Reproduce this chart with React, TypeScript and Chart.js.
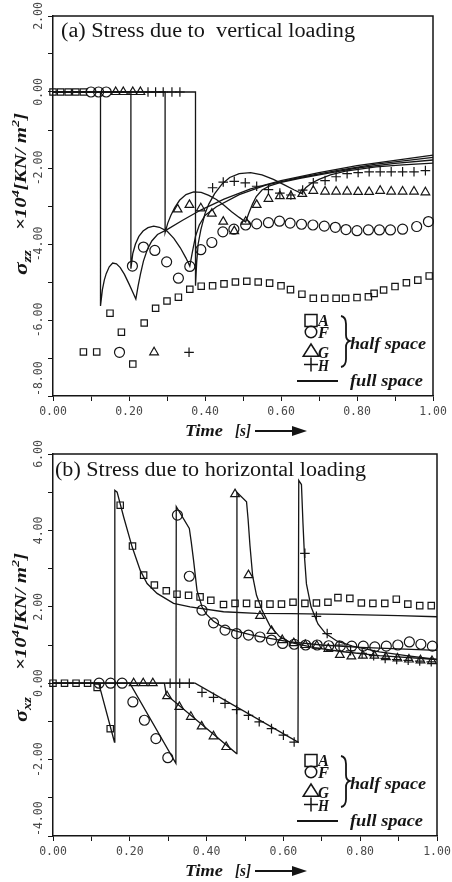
import React, { useEffect, useRef } from 'react';
import { Chart, registerables } from 'chart.js';
Chart.register(...registerables);

type Pt = [number, number];

// ---------- tick labels ----------
const xTickLabels = ['0.00', '0.20', '0.40', '0.60', '0.80', '1.00'];
const yTickLabelsA = ['2.00', '0.00', '-2.00', '-4.00', '-6.00', '-8.00'];
const yTickLabelsB = ['6.00', '4.00', '2.00', '0.00', '-2.00', '-4.00'];
const pointNames = ['A', 'F', 'G', 'H'];

// ---------- (a) vertical loading : full space ----------
const aFullA: Pt[] = [[0, 0], [0.125, 0], [0.125, -5.63], [0.13, -5.2], [0.135, -4.95], [0.14, -4.78], [0.148, -4.6], [0.157, -4.5], [0.167, -4.52], [0.177, -4.62], [0.188, -4.8], [0.2, -5.05], [0.21, -5.27], [0.218, -5.45], [0.224, -5.1], [0.23, -4.8], [0.238, -4.45], [0.248, -4.15], [0.26, -3.92], [0.275, -3.75], [0.3, -3.62], [0.34, -3.38], [0.39, -3.1], [0.45, -2.82], [0.52, -2.55], [0.6, -2.33], [0.7, -2.12], [0.8, -1.94], [0.9, -1.8], [1.0, -1.66]];
const aFullF: Pt[] = [[0, 0], [0.205, 0], [0.205, -4.65], [0.21, -4.25], [0.217, -4.0], [0.226, -3.8], [0.237, -3.66], [0.25, -3.57], [0.265, -3.53], [0.28, -3.56], [0.3, -3.66], [0.318, -3.85], [0.335, -4.1], [0.35, -4.37], [0.36, -4.58], [0.367, -4.2], [0.375, -3.8], [0.385, -3.5], [0.4, -3.25], [0.43, -3.02], [0.49, -2.7], [0.56, -2.45], [0.65, -2.25], [0.75, -2.06], [0.85, -1.9], [1.0, -1.72]];
const aFullG: Pt[] = [[0, 0], [0.295, 0], [0.295, -3.7], [0.302, -3.45], [0.31, -3.25], [0.32, -3.05], [0.333, -2.85], [0.35, -2.7], [0.37, -2.63], [0.39, -2.64], [0.41, -2.72], [0.43, -2.83], [0.45, -2.98], [0.47, -3.15], [0.49, -3.3], [0.507, -3.42], [0.515, -3.2], [0.525, -2.95], [0.535, -2.75], [0.55, -2.58], [0.57, -2.47], [0.6, -2.38], [0.65, -2.27], [0.7, -2.18], [0.8, -2.0], [0.9, -1.88], [1.0, -1.79]];
const aFullH: Pt[] = [[0, 0], [0.375, 0], [0.375, -5.1], [0.378, -4.5], [0.382, -4.0], [0.389, -3.63], [0.4, -3.2], [0.41, -2.95], [0.425, -2.68], [0.445, -2.42], [0.465, -2.25], [0.49, -2.15], [0.52, -2.12], [0.55, -2.18], [0.58, -2.3], [0.61, -2.45], [0.635, -2.58], [0.654, -2.67], [0.665, -2.52], [0.68, -2.4], [0.7, -2.3], [0.73, -2.18], [0.77, -2.08], [0.85, -1.97], [0.92, -1.92], [1.0, -1.87]];

// ---------- (a) vertical loading : half space ----------
const aHalfA: Pt[] = [[0, 0], [0.02, 0], [0.04, 0], [0.06, 0], [0.08, 0], [0.08, -6.84], [0.115, -6.84], [0.15, -5.82], [0.18, -6.32], [0.21, -7.16], [0.24, -6.08], [0.27, -5.69], [0.3, -5.5], [0.33, -5.4], [0.36, -5.19], [0.39, -5.11], [0.42, -5.1], [0.45, -5.05], [0.48, -5.0], [0.51, -4.98], [0.54, -5.0], [0.57, -5.03], [0.6, -5.1], [0.625, -5.2], [0.655, -5.32], [0.685, -5.43], [0.715, -5.43], [0.745, -5.43], [0.77, -5.43], [0.8, -5.41], [0.83, -5.39], [0.845, -5.3], [0.87, -5.21], [0.9, -5.12], [0.93, -5.02], [0.96, -4.95], [0.99, -4.84]];
const aHalfF: Pt[] = [[0.1, 0], [0.12, 0], [0.14, 0], [0.175, -6.85], [0.209, -4.58], [0.238, -4.08], [0.268, -4.17], [0.299, -4.47], [0.33, -4.9], [0.36, -4.59], [0.389, -4.15], [0.418, -3.96], [0.447, -3.68], [0.476, -3.61], [0.507, -3.5], [0.536, -3.47], [0.567, -3.44], [0.596, -3.4], [0.624, -3.45], [0.654, -3.48], [0.684, -3.5], [0.714, -3.53], [0.743, -3.56], [0.771, -3.62], [0.8, -3.65], [0.83, -3.63], [0.859, -3.63], [0.888, -3.63], [0.92, -3.61], [0.957, -3.54], [0.988, -3.41]];
const aHalfG: Pt[] = [[0.165, 0], [0.185, 0], [0.21, 0], [0.23, 0], [0.266, -6.85], [0.328, -3.09], [0.359, -2.97], [0.389, -3.06], [0.418, -3.2], [0.448, -3.41], [0.477, -3.66], [0.507, -3.41], [0.536, -2.97], [0.567, -2.81], [0.597, -2.74], [0.626, -2.74], [0.656, -2.68], [0.685, -2.6], [0.716, -2.62], [0.745, -2.62], [0.774, -2.62], [0.803, -2.63], [0.832, -2.63], [0.861, -2.6], [0.89, -2.62], [0.92, -2.62], [0.95, -2.62], [0.98, -2.64]];
const aHalfH: Pt[] = [[0.25, 0], [0.27, 0], [0.29, 0], [0.313, 0], [0.334, 0], [0.358, -6.85], [0.42, -2.52], [0.448, -2.37], [0.477, -2.35], [0.506, -2.39], [0.536, -2.48], [0.567, -2.57], [0.597, -2.66], [0.626, -2.71], [0.657, -2.58], [0.685, -2.39], [0.716, -2.33], [0.745, -2.23], [0.774, -2.15], [0.803, -2.12], [0.832, -2.1], [0.861, -2.1], [0.89, -2.1], [0.92, -2.1], [0.95, -2.1], [0.98, -2.07]];

// ---------- (b) horizontal loading : full space ----------
const bFullA: Pt[] = [[0, 0], [0.119, 0], [0.16, -1.54], [0.161, 5.05], [0.167, 5.0], [0.184, 4.35], [0.206, 3.57], [0.227, 2.96], [0.245, 2.61], [0.271, 2.35], [0.314, 2.09], [0.357, 2.0], [0.444, 1.87], [0.53, 1.83], [0.62, 1.82], [0.75, 1.8], [0.9, 1.77], [1.0, 1.74]];
const bFullF: Pt[] = [[0, 0], [0.2, 0], [0.32, -2.1], [0.321, 4.62], [0.355, 4.05], [0.36, 3.7], [0.366, 3.22], [0.375, 2.43], [0.388, 2.0], [0.4, 1.8], [0.418, 1.62], [0.44, 1.48], [0.47, 1.38], [0.513, 1.27], [0.56, 1.18], [0.617, 1.08], [0.7, 1.0], [0.8, 0.94], [0.9, 0.9], [1.0, 0.86]];
const bFullG: Pt[] = [[0, 0], [0.29, 0], [0.295, -0.3], [0.478, -1.84], [0.479, 5.0], [0.504, 4.75], [0.508, 4.3], [0.513, 3.6], [0.52, 2.8], [0.53, 2.3], [0.545, 1.9], [0.565, 1.5], [0.59, 1.22], [0.62, 1.06], [0.68, 0.93], [0.75, 0.83], [0.85, 0.72], [1.0, 0.62]];
const bFullH: Pt[] = [[0, 0], [0.37, 0], [0.638, -1.54], [0.64, 5.31], [0.647, 5.2], [0.651, 4.18], [0.655, 3.3], [0.66, 2.6], [0.672, 2.0], [0.69, 1.55], [0.71, 1.3], [0.74, 1.1], [0.78, 0.97], [0.85, 0.82], [0.92, 0.72], [1.0, 0.62]];

// ---------- (b) horizontal loading : half space ----------
const bHalfA: Pt[] = [[0, 0], [0.03, 0], [0.06, 0], [0.09, 0], [0.115, -0.11], [0.149, -1.19], [0.175, 4.66], [0.207, 3.59], [0.236, 2.83], [0.264, 2.57], [0.295, 2.42], [0.323, 2.33], [0.353, 2.3], [0.383, 2.26], [0.411, 2.17], [0.444, 2.06], [0.474, 2.09], [0.504, 2.09], [0.535, 2.07], [0.565, 2.07], [0.595, 2.07], [0.625, 2.12], [0.656, 2.09], [0.686, 2.1], [0.716, 2.12], [0.742, 2.24], [0.773, 2.22], [0.803, 2.1], [0.833, 2.09], [0.864, 2.09], [0.894, 2.2], [0.924, 2.07], [0.955, 2.03], [0.985, 2.03]];
const bHalfF: Pt[] = [[0.12, 0], [0.15, 0], [0.18, 0], [0.208, -0.49], [0.238, -0.97], [0.268, -1.45], [0.299, -1.95], [0.324, 4.4], [0.355, 2.8], [0.388, 1.91], [0.418, 1.58], [0.448, 1.39], [0.478, 1.3], [0.509, 1.26], [0.539, 1.21], [0.569, 1.13], [0.598, 1.04], [0.628, 1.02], [0.658, 1.0], [0.688, 1.0], [0.718, 0.98], [0.748, 0.97], [0.778, 0.97], [0.808, 0.97], [0.838, 0.95], [0.868, 0.97], [0.898, 1.0], [0.928, 1.08], [0.958, 1.02], [0.988, 0.97]];
const bHalfG: Pt[] = [[0.21, 0], [0.235, 0], [0.26, 0], [0.297, -0.34], [0.329, -0.62], [0.359, -0.88], [0.387, -1.13], [0.418, -1.39], [0.451, -1.67], [0.474, 4.95], [0.509, 2.83], [0.539, 1.76], [0.569, 1.37], [0.597, 1.13], [0.627, 1.05], [0.657, 1.0], [0.687, 0.98], [0.717, 0.9], [0.747, 0.74], [0.777, 0.7], [0.807, 0.72], [0.837, 0.72], [0.867, 0.68], [0.897, 0.65], [0.927, 0.62], [0.957, 0.6], [0.987, 0.58]];
const bHalfH: Pt[] = [[0.305, 0], [0.33, 0], [0.355, 0], [0.388, -0.24], [0.418, -0.37], [0.448, -0.53], [0.478, -0.69], [0.509, -0.84], [0.537, -1.01], [0.569, -1.19], [0.6, -1.36], [0.628, -1.54], [0.656, 3.4], [0.686, 1.75], [0.714, 1.3], [0.745, 1.0], [0.775, 0.85], [0.805, 0.78], [0.835, 0.72], [0.865, 0.65], [0.895, 0.62], [0.925, 0.6], [0.955, 0.58], [0.985, 0.56]];

const SERIF = '"Liberation Serif", "DejaVu Serif", serif';
const MONO = '"DejaVu Sans Mono", "Liberation Mono", monospace';
const INK = '#151515';

interface PanelSpec {
  canvasTop: number;
  canvasHeight: number;
  padTop: number;
  padRight: number;
  yWidth: number;
  xHeight: number;
  yMin: number;
  yMax: number;
  yLabels: string[];
  title: string;
  titleX: number;
  titleBase: number;
  titleW: number;
  sub: string;
  sigmaBottom: number;
  full: Pt[][];
  half: Pt[][];
}

function fitText(ctx: CanvasRenderingContext2D, text: string, x: number, y: number, w: number, font: string) {
  ctx.save();
  ctx.font = font;
  const m = ctx.measureText(text).width;
  ctx.translate(x, y);
  ctx.scale(w / m, 1);
  ctx.textAlign = 'left';
  ctx.textBaseline = 'alphabetic';
  ctx.fillText(text, 0, 0);
  ctx.restore();
}

type Piece = { t: string; f: string; dy: number };
function drawPieces(ctx: CanvasRenderingContext2D, pieces: Piece[], x: number, y: number, len: number, rotate: boolean) {
  ctx.save();
  let total = 0;
  for (const p of pieces) { ctx.font = p.f; total += ctx.measureText(p.t).width; }
  ctx.translate(x, y);
  if (rotate) ctx.rotate(-Math.PI / 2);
  ctx.scale(len / total, 1);
  ctx.textAlign = 'left';
  ctx.textBaseline = 'alphabetic';
  let cx = 0;
  for (const p of pieces) { ctx.font = p.f; ctx.fillText(p.t, cx, p.dy); cx += ctx.measureText(p.t).width; }
  ctx.restore();
}

function drawMarker(ctx: CanvasRenderingContext2D, kind: string, cx: number, cy: number, s: number) {
  ctx.beginPath();
  if (kind === 'rect') ctx.rect(cx - s / 2, cy - s / 2, s, s);
  else if (kind === 'circle') ctx.arc(cx, cy, s / 2, 0, Math.PI * 2);
  else if (kind === 'triangle') { ctx.moveTo(cx, cy - s * 0.5); ctx.lineTo(cx + s * 0.6, cy + s * 0.45); ctx.lineTo(cx - s * 0.6, cy + s * 0.45); ctx.closePath(); }
  else { ctx.moveTo(cx - s / 2, cy); ctx.lineTo(cx + s / 2, cy); ctx.moveTo(cx, cy - s / 2); ctx.lineTo(cx, cy + s / 2); }
  ctx.stroke();
}

const styles = ['rect', 'circle', 'triangle', 'cross'];

function Panel({ spec }: { spec: PanelSpec }) {
  const ref = useRef<HTMLCanvasElement>(null);
  useEffect(() => {
    const canvas = ref.current!;
    const lineSets = spec.full.map((d) => ({
      data: d.map(([x, y]) => ({ x, y })),
      showLine: true,
      borderColor: INK,
      borderWidth: 1.3,
      pointRadius: 0,
      tension: 0,
      fill: false,
      clip: false as any,
    }));
    const markSets = spec.half.map((d, i) => ({
      data: d.map(([x, y]) => ({ x, y })),
      showLine: false,
      pointStyle: styles[i],
      pointRadius: styles[i] === 'rect' ? 4.5 : styles[i] === 'circle' ? 5 : styles[i] === 'triangle' ? 5 : 4.8,
      pointBorderWidth: 1.2,
      pointBorderColor: INK,
      pointBackgroundColor: 'rgba(255,255,255,0)',
      clip: false as any,
    }));

    const decor = {
      id: 'decor',
      afterDraw(chart: any) {
        const ctx: CanvasRenderingContext2D = chart.ctx;
        const { left, right, top, bottom } = chart.chartArea;
        const xs = chart.scales.x;
        const ys = chart.scales.y;
        ctx.save();
        // frame top and right
        ctx.strokeStyle = INK;
        ctx.lineWidth = 1.5;
        ctx.beginPath();
        ctx.moveTo(left, top);
        ctx.lineTo(right, top);
        ctx.lineTo(right, bottom);
        ctx.stroke();

        // tick labels
        ctx.fillStyle = '#4a4a4a';
        ctx.font = '11.5px ' + MONO;
        ctx.textAlign = 'center';
        ctx.textBaseline = 'middle';
        xTickLabels.forEach((lab) => {
          ctx.fillText(lab, xs.getPixelForValue(parseFloat(lab)), bottom + 16);
        });
        spec.yLabels.forEach((lab, i) => {
          const py = ys.getPixelForValue(parseFloat(lab));
          ctx.save();
          ctx.translate(left - 14, py);
          ctx.rotate(-Math.PI / 2);
          ctx.textAlign = i === spec.yLabels.length - 1 ? 'left' : 'center';
          ctx.fillText(lab, 0, 0);
          ctx.restore();
        });

        ctx.fillStyle = INK;
        // panel title
        fitText(ctx, spec.title, spec.titleX, spec.titleBase, spec.titleW, '20px ' + SERIF);

        // x axis title
        const bi = (s: number) => 'italic bold ' + s + 'px ' + SERIF;
        const xb = bottom + 40;
        fitText(ctx, 'Time', 185, xb, 38, bi(17));
        fitText(ctx, '[s]', 235, xb, 16, bi(17));
        ctx.lineWidth = 2;
        ctx.beginPath();
        ctx.moveTo(255, xb - 5);
        ctx.lineTo(295, xb - 5);
        ctx.stroke();
        ctx.beginPath();
        ctx.moveTo(307, xb - 5);
        ctx.lineTo(292, xb - 10);
        ctx.lineTo(292, xb);
        ctx.closePath();
        ctx.fill();

        // y axis title
        drawPieces(ctx, [
          { t: 'σ', f: bi(18), dy: 0 },
          { t: spec.sub, f: bi(12), dy: 4 },
        ], 27, spec.sigmaBottom, 25, true);
        drawPieces(ctx, [
          { t: '×10', f: bi(16), dy: 0 },
          { t: '4', f: bi(11), dy: -7 },
          { t: '[KN/ m', f: bi(16), dy: 0 },
          { t: '2', f: bi(11), dy: -7 },
          { t: ']', f: bi(16), dy: 0 },
        ], 26, 230, 117, true);

        // legend
        ctx.strokeStyle = INK;
        ctx.lineWidth = 1.5;
        const lx = 311;
        const ly = [320.5, 332, 350.5, 364.5];
        const ls = [12, 11.5, 13, 14];
        const lb = [326, 338, 357.5, 370.5];
        styles.forEach((st, i) => {
          drawMarker(ctx, st, lx, ly[i], ls[i]);
          fitText(ctx, pointNames[i], 318, lb[i], 11, bi(17));
        });
        // brace
        ctx.lineWidth = 1.8;
        ctx.beginPath();
        ctx.moveTo(341, 316);
        ctx.quadraticCurveTo(346, 317, 346, 324);
        ctx.lineTo(346, 335);
        ctx.quadraticCurveTo(346, 340, 350, 341);
        ctx.quadraticCurveTo(346, 342, 346, 347);
        ctx.lineTo(346, 359);
        ctx.quadraticCurveTo(346, 366, 341, 367);
        ctx.stroke();
        fitText(ctx, 'half space', 350, 349, 76, bi(17));
        ctx.lineWidth = 2;
        ctx.beginPath();
        ctx.moveTo(297, 381);
        ctx.lineTo(338, 381);
        ctx.stroke();
        fitText(ctx, 'full space', 350, 386, 73, bi(17));
        ctx.restore();
      },
    };

    const grid = { display: true, drawOnChartArea: false, drawTicks: true, tickLength: 5, color: INK, lineWidth: 1 };
    const border = { display: true, color: INK, width: 1.5 };
    const chart = new Chart(canvas, {
      type: 'scatter',
      data: { datasets: [...lineSets, ...markSets] as any },
      options: {
        responsive: false,
        animation: false,
        devicePixelRatio: 1,
        events: [],
        layout: { autoPadding: false, padding: { left: 0, top: spec.padTop, right: spec.padRight, bottom: 0 } },
        plugins: { legend: { display: false }, tooltip: { enabled: false } },
        scales: {
          x: {
            type: 'linear', min: 0, max: 1,
            ticks: { display: false, stepSize: 0.1 },
            grid, border,
            afterFit: (s: any) => { s.height = spec.xHeight; },
          },
          y: {
            type: 'linear', min: spec.yMin, max: spec.yMax,
            ticks: { display: false, stepSize: 1 },
            grid, border,
            afterFit: (s: any) => { s.width = spec.yWidth; },
          },
        },
      } as any,
      plugins: [decor],
    });
    return () => chart.destroy();
  }, []);
  return (
    <canvas
      ref={ref}
      width={452}
      height={spec.canvasHeight}
      style={{ position: 'absolute', left: 0, top: spec.canvasTop, width: 452, height: spec.canvasHeight, display: 'block' }}
    />
  );
}

const panelA: PanelSpec = {
  canvasTop: 0, canvasHeight: 440, padTop: 16, padRight: 19, yWidth: 53, xHeight: 44,
  yMin: -8, yMax: 2, yLabels: yTickLabelsA,
  title: '(a) Stress due to  vertical loading', titleX: 61, titleBase: 37, titleW: 294,
  sub: 'zz', sigmaBottom: 275,
  full: [aFullA, aFullF, aFullG, aFullH],
  half: [aHalfA, aHalfF, aHalfG, aHalfH],
};

const panelB: PanelSpec = {
  canvasTop: 440, canvasHeight: 442, padTop: 14, padRight: 15, yWidth: 53, xHeight: 46,
  yMin: -4, yMax: 6, yLabels: yTickLabelsB,
  title: '(b) Stress due to horizontal loading', titleX: 55, titleBase: 36, titleW: 311,
  sub: 'xz', sigmaBottom: 282,
  full: [bFullA, bFullF, bFullG, bFullH],
  half: [bHalfA, bHalfF, bHalfG, bHalfH],
};

export default function App() {
  return (
    <div style={{ position: 'absolute', left: 0, top: 0, width: 452, height: 882, background: '#fff' }}>
      <Panel spec={panelA} />
      <Panel spec={panelB} />
    </div>
  );
}
